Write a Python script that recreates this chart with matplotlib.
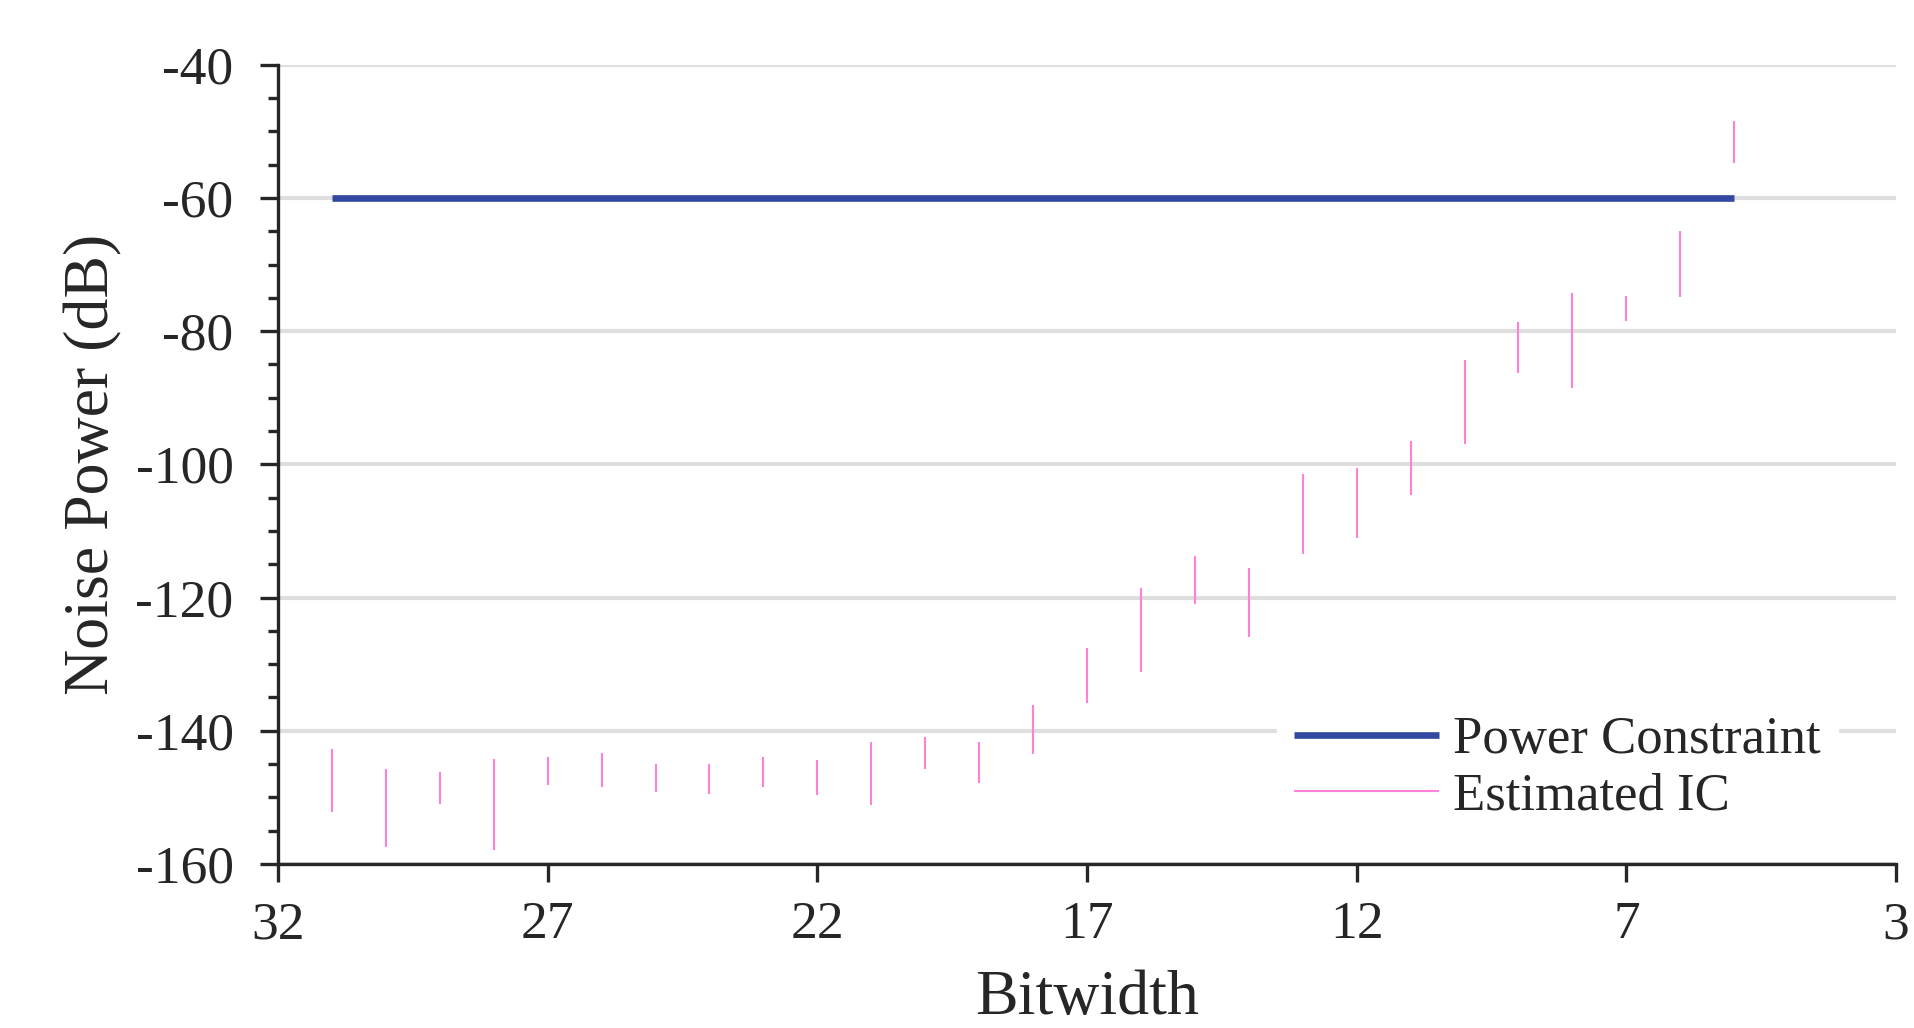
import numpy as np
import matplotlib.pyplot as plt
from matplotlib.ticker import MultipleLocator

plt.rcParams['font.family'] = ['Liberation Serif', 'DejaVu Serif']
plt.rcParams['axes.unicode_minus'] = False

# Estimated IC ranges per bitwidth (dB)
bits = [31, 30, 29, 28, 27, 26, 25, 24, 23, 22, 21, 20, 19, 18,
        17, 16, 15, 14, 13, 12, 11, 10, 9, 8, 7, 6, 5]
ic_low = [-152.2, -157.5, -151.0, -157.9, -148.1, -148.5, -149.2, -149.5, -148.4,
          -149.6, -151.2, -145.7, -147.9, -143.5, -135.9, -131.1, -121.0, -125.9,
          -113.4, -111.0, -104.6, -97.0, -86.3, -88.6, -78.5, -74.9, -54.7]
ic_high = [-142.7, -145.8, -146.2, -144.3, -144.0, -143.3, -145.0, -145.0, -143.9,
           -144.4, -141.7, -140.9, -141.7, -136.1, -127.5, -118.5, -113.8, -115.6,
           -101.4, -100.6, -96.5, -84.4, -78.7, -74.2, -74.7, -64.9, -48.5]

# power constraint line
constraint_x = [31, 5]
constraint_y = [-60, -60]

xticks = [32, 27, 22, 17, 12, 7, 2]
xtick_labels = ['32', '27', '22', '17', '12', '7', '3']

dark = '#262626'

fig = plt.figure(figsize=(19.14, 10.28), dpi=100)
ax = fig.add_axes([278 / 1914, 1 - 864 / 1028, (1896 - 278) / 1914, (864 - 64.7) / 1028])

ax.plot(constraint_x, constraint_y, color='#3349A1', linewidth=4.8,
        solid_capstyle='butt', label='Power Constraint', zorder=3)
ax.vlines(bits, ic_low, ic_high, color='#FF80D8', linewidth=1.5,
          label='Estimated IC', zorder=3)

ax.set_xlim(32, 2)
ax.set_ylim(-160, -40)
ax.set_xticks(xticks)
ax.set_xticklabels(xtick_labels)
ax.yaxis.set_major_locator(MultipleLocator(20))
ax.yaxis.set_minor_locator(MultipleLocator(5))

ax.grid(axis='y', which='major', color='#dedede', linewidth=3.0, zorder=0)
ax.set_axisbelow(True)

for side in ['top', 'right']:
    ax.spines[side].set_visible(False)
for side in ['left', 'bottom']:
    ax.spines[side].set_color(dark)
    ax.spines[side].set_linewidth(2.4)

ax.tick_params(axis='both', which='major', length=13, width=2.4, color=dark,
               labelsize=38.5, labelcolor=dark)
ax.tick_params(axis='y', which='major', pad=19)
ax.tick_params(axis='x', which='major', pad=14)
ax.tick_params(axis='y', which='minor', length=7, width=2.4, color=dark)

ax.set_xlabel('Bitwidth', fontsize=46, color=dark, labelpad=15)
ax.set_ylabel('Noise Power (dB)', fontsize=46, color=dark, labelpad=9)

leg = ax.legend(loc='center left', bbox_to_anchor=(1277 / 1914, 1 - 768.5 / 1028),
                bbox_transform=fig.transFigure, fontsize=38, frameon=True,
                fancybox=False, framealpha=1, edgecolor='white',
                handlelength=2.75, handletextpad=0.27, labelspacing=0.16,
                borderpad=0.32, borderaxespad=0)
for t in leg.get_texts():
    t.set_color(dark)

plt.savefig('out.png', dpi=100)
